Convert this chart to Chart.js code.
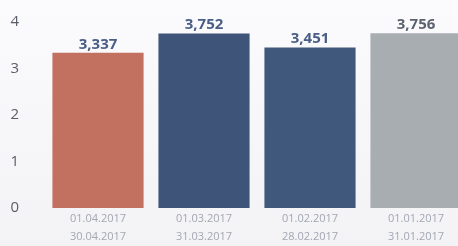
<!DOCTYPE html>
<html>
<head>
<meta charset="utf-8">
<script src="https://cdn.jsdelivr.net/npm/chart.js@4"></script>
<style>
html,body{margin:0;padding:0;width:458px;height:246px;overflow:hidden;background:linear-gradient(180deg,#fbfbfd 0%,#f3f3f6 100%);}
#wrap{width:472px;height:246px;position:relative;}
</style>
</head>
<body>
<div id="wrap"><canvas id="c" width="472" height="246"></canvas></div>
<script>
const categories = [["01.04.2017","30.04.2017"],["01.03.2017","31.03.2017"],["01.02.2017","28.02.2017"],["01.01.2017","31.01.2017"]];
const values = [3.337, 3.752, 3.451, 3.756];
const valueLabels = ["3,337", "3,752", "3,451", "3,756"];
const barColors = ["#c2705f", "#3e5579", "#40587b", "#a8adb2"];
const yTicks = [0, 1, 2, 3, 4];

const valuePlugin = {
  id: 'valuePlugin',
  afterDatasetsDraw(chart) {
    const ctx = chart.ctx;
    const meta = chart.getDatasetMeta(0);
    ctx.save();
    ctx.font = 'bold 15px "Open Sans", sans-serif';
    ctx.textAlign = 'center';
    ctx.textBaseline = 'bottom';
    meta.data.forEach((bar, i) => {
      ctx.fillStyle = i === 3 ? '#5d6470' : '#4a5d84';
      ctx.fillText(valueLabels[i], bar.x, bar.y - 1);
    });
    ctx.restore();
  }
};

new Chart(document.getElementById('c'), {
  type: 'bar',
  data: {
    labels: categories,
    datasets: [{
      data: values,
      backgroundColor: barColors,
      categoryPercentage: 0.86,
      barPercentage: 1.0
    }]
  },
  options: {
    responsive: false,
    animation: false,
    layout: { padding: { top: 22, right: 3, left: 0, bottom: 0 } },
    plugins: { legend: { display: false }, tooltip: { enabled: false } },
    scales: {
      x: {
        grid: { display: false, drawTicks: false },
        border: { display: false },
        ticks: {
          color: '#a3a7b2',
          font: { family: '"Open Sans", sans-serif', size: 11, lineHeight: 1.65 },
          padding: 2,
          maxRotation: 0
        },
        afterFit(s) { s.height = 38; }
      },
      y: {
        min: 0, max: 4,
        afterBuildTicks(s) { s.ticks = yTicks.map(v => ({ value: v })); },
        grid: { display: false, drawTicks: false },
        border: { display: false },
        ticks: {
          color: '#5a5e66',
          font: { family: '"Open Sans", sans-serif', size: 15 },
          padding: 26
        },
        afterFit(s) { s.width = 45; s.paddingTop = 0; s.paddingBottom = 0; }
      }
    }
  },
  plugins: [valuePlugin]
});
</script>
</body>
</html>
